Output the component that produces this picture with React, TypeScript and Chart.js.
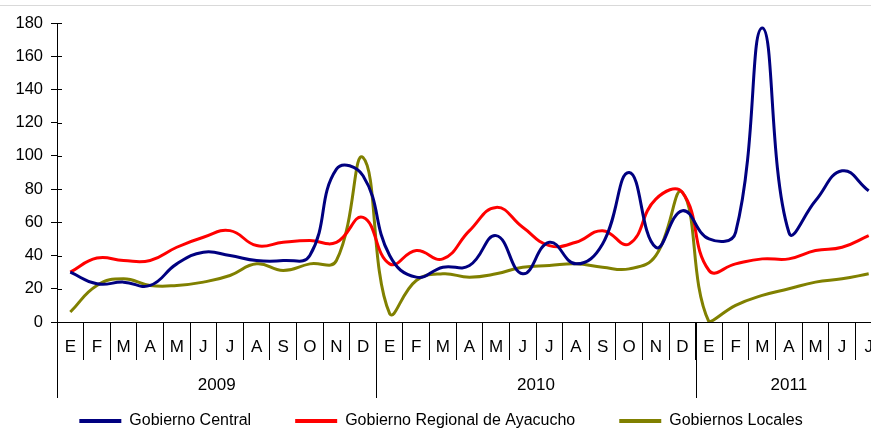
import React, { useEffect, useRef } from "react";
import { Chart, registerables } from "chart.js";

Chart.register(...registerables);

// ---- Data ----
const monthLetters = ["E", "F", "M", "A", "M", "J", "J", "A", "S", "O", "N", "D"];
const years = ["2009", "2010", "2011"];
const yearMonthCounts = [12, 12, 7];
const months = [
  ...monthLetters,
  ...monthLetters,
  ...monthLetters.slice(0, 7),
];

const gobiernoCentral = [
  30, 23, 24, 22, 35, 42, 40, 37, 37, 40, 92, 88,
  40, 27, 33, 34, 52, 29, 48, 35, 47, 90, 45, 67,
  50, 54, 177, 54, 73, 91, 79,
];
const gobiernoRegional = [
  30, 38.5, 37, 37, 45, 51, 55, 46, 48, 49, 48, 63,
  35, 43, 38, 55, 69, 57, 46, 48, 55, 47, 74, 78,
  31, 35, 38, 38, 43, 45, 52,
];
const gobiernosLocales = [
  6, 22, 26, 22, 22, 24, 28, 35, 31, 35, 37, 99,
  5, 25, 29, 27, 29, 33, 34, 35, 33, 32, 40, 78,
  0, 10, 16, 20, 24, 26, 29,
];

const seriesNames = ["Gobierno Central", "Gobierno Regional de Ayacucho", "Gobiernos Locales"];
const seriesColors = ["#000080", "#FF0000", "#808000"];

const yMin = 0;
const yMax = 180;
const yStep = 20;

const FONT = "'Liberation Sans', Arial, sans-serif";

const yearRowPlugin = {
  id: "yearRow",
  afterDraw(chart: any) {
    const { ctx, chartArea } = chart;
    const x = chart.scales.x;
    const y = chart.scales.y;
    ctx.save();
    ctx.strokeStyle = "#000";
    ctx.lineWidth = 1;
    const half = (x.getPixelForValue(1) - x.getPixelForValue(0)) / 2;
    let start = 0;
    yearMonthCounts.forEach((count, i) => {
      const left = x.getPixelForValue(start) - half;
      const right = x.getPixelForValue(start + count - 1) + half;
      const lx = Math.round(left) + 0.5;
      ctx.beginPath();
      ctx.moveTo(lx, chartArea.bottom);
      ctx.lineTo(lx, chartArea.bottom + 76);
      ctx.stroke();
      ctx.fillStyle = "#000";
      ctx.font = `17px ${FONT}`;
      ctx.textAlign = "center";
      ctx.textBaseline = "middle";
      ctx.fillText(years[i], (left + right) / 2, chartArea.bottom + 63);
      start += count;
    });
    // cross tick marks on the y axis (inner half)
    y.ticks.forEach((t: any) => {
      const py = Math.round(y.getPixelForValue(t.value)) + 0.5;
      ctx.beginPath();
      ctx.moveTo(chartArea.left, py);
      ctx.lineTo(chartArea.left + 5, py);
      ctx.stroke();
    });
    ctx.restore();
  },
};

export default function App() {
  const canvasRef = useRef<HTMLCanvasElement | null>(null);

  useEffect(() => {
    if (!canvasRef.current) return;
    const data = [gobiernoCentral, gobiernoRegional, gobiernosLocales];
    const chart = new Chart(canvasRef.current, {
      type: "line",
      data: {
        labels: months,
        datasets: data.map((values, i) => ({
          label: seriesNames[i],
          data: values,
          borderColor: seriesColors[i],
          backgroundColor: seriesColors[i],
          borderWidth: 3,
          pointRadius: 0,
          pointHoverRadius: 0,
          tension: 0.45,
          fill: false,
        })),
      },
      options: {
        responsive: false,
        animation: false,
        layout: { padding: { left: 0, right: 8, top: 23, bottom: 0 } },
        plugins: {
          tooltip: { enabled: false },
          legend: {
            position: "bottom",
            labels: {
              boxWidth: 42,
              boxHeight: 4,
              padding: 44,
              color: "#000",
              font: { size: 16, family: FONT },
              generateLabels: (c: any) =>
                (Chart.defaults.plugins.legend.labels.generateLabels as any)(c).map((l: any) => ({
                  ...l,
                  lineWidth: 0,
                  fillStyle: l.strokeStyle,
                })),
            },
          },
        },
        scales: {
          x: {
            type: "category",
            offset: true,
            grid: {
              display: true,
              drawOnChartArea: false,
              drawTicks: true,
              tickLength: 38,
              color: "#000",
              offset: true,
            },
            border: { display: true, color: "#000", width: 1 },
            ticks: {
              autoSkip: false,
              maxRotation: 0,
              padding: -23,
              color: "#000",
              font: { size: 17, family: FONT },
            },
            afterFit: (scale: any) => {
              scale.height = 47;
            },
          },
          y: {
            min: yMin,
            max: yMax,
            grid: {
              display: true,
              drawOnChartArea: false,
              drawTicks: true,
              tickLength: 6,
              color: "#000",
            },
            border: { display: true, color: "#000", width: 1 },
            ticks: {
              stepSize: yStep,
              padding: 8,
              color: "#000",
              font: { size: 16.5, family: FONT },
            },
            afterFit: (scale: any) => {
              scale.width = 57;
            },
          },
        },
      },
      plugins: [yearRowPlugin],
    });
    return () => chart.destroy();
  }, []);

  return (
    <div
      style={{
        position: "absolute",
        left: 0,
        top: 0,
        width: 871,
        height: 428,
        overflow: "hidden",
        background: "#fff",
      }}
    >
      <div
        style={{
          position: "absolute",
          left: 0,
          top: 5,
          width: 871,
          height: 1,
          background: "#d9d9d9",
        }}
      />
      <canvas ref={canvasRef} width={890} height={439} style={{ display: "block" }} />
    </div>
  );
}
